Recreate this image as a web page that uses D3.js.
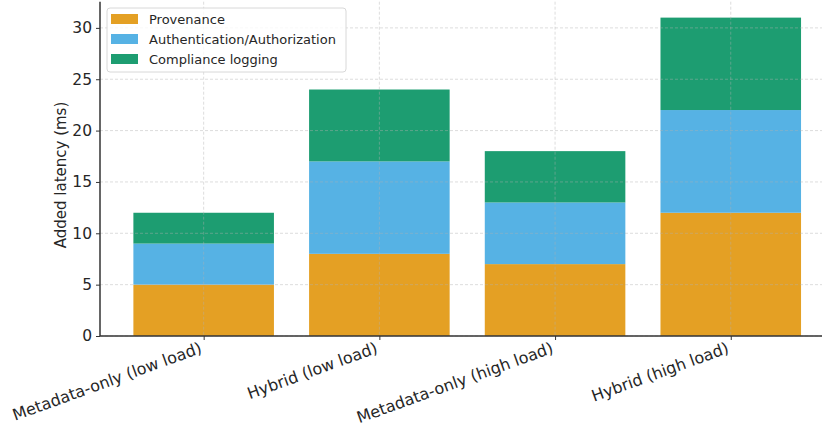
<!DOCTYPE html>
<html><head><meta charset="utf-8">
<script src="https://cdn.jsdelivr.net/npm/d3@7"></script>
<style>body{margin:0;background:#fff}svg{display:block;font-family:"DejaVu Sans",sans-serif}</style>
</head><body><svg id="c" width="822" height="427"></svg>
<script>
const categories = ["Metadata-only (low load)", "Hybrid (low load)", "Metadata-only (high load)", "Hybrid (high load)"];
const seriesNames = ["Provenance", "Authentication/Authorization", "Compliance logging"];
const provenance = [5, 8, 7, 12];
const authentication = [4, 9, 6, 10];
const compliance = [3, 7, 5, 9];
const yTicks = [0, 5, 10, 15, 20, 25, 30];
const colors = ["#E4A024", "#56B2E4", "#1D9D71"];

const svg = d3.select("#c");
const L = 100, B = 336, T = 1.7;
const values = [provenance, authentication, compliance];
const totals = categories.map((c, i) => values.reduce((s, v) => s + v[i], 0));
const ymax = d3.max(totals) * 1.05;
const y = d3.scaleLinear().domain([0, ymax]).range([B, T]);
const x = d3.scaleLinear().domain([-0.59, 3.59]).range([L, L + 4.18 * 175.7]);
const bw = x(0.8) - x(0);

// bars
const rows = categories.map((c, i) => { const o = {cat: c, i}; seriesNames.forEach((s, k) => o[s] = values[k][i]); return o; });
const stack = d3.stack().keys(seriesNames)(rows);
stack.forEach((layer, k) => {
  svg.append("g").selectAll("rect").data(layer).enter().append("rect")
    .attr("x", (d, i) => x(i) - bw / 2)
    .attr("width", bw)
    .attr("y", d => y(d[1]))
    .attr("height", d => y(d[0]) - y(d[1]))
    .attr("fill", colors[k]);
});

// grid (on top)
const grid = svg.append("g").attr("stroke", "#b0b0b0").attr("stroke-opacity", 0.55).attr("stroke-dasharray", "3,2").attr("stroke-width", 0.8);
yTicks.forEach(t => grid.append("line").attr("x1", L).attr("x2", 822).attr("y1", y(t)).attr("y2", y(t)));
categories.forEach((c, i) => grid.append("line").attr("x1", x(i)).attr("x2", x(i)).attr("y1", T).attr("y2", B));

// axes
const yAxis = d3.axisLeft(y).tickValues(yTicks).tickSize(4).tickPadding(4);
const gy = svg.append("g").attr("transform", `translate(${L},0)`).call(yAxis);
gy.select(".domain").attr("stroke", "#333").attr("stroke-width", 1.5).attr("d", `M0,${B}V${T}`);
gy.selectAll(".tick line").attr("stroke", "#333");
gy.selectAll("text").attr("font-size", 15.5).attr("fill", "#262626").attr("font-family", "DejaVu Sans");

const xb = d3.scaleOrdinal().domain(categories).range(categories.map((c, i) => x(i)));
const gx = svg.append("g").attr("transform", `translate(0,${B})`)
  .call(d3.axisBottom(xb).tickSize(4).tickPadding(6));
gx.select(".domain").attr("stroke", "#333").attr("stroke-width", 1.5).attr("d", `M${L},0H822`);
gx.selectAll(".tick line").attr("stroke", "#333");
gx.selectAll("text").attr("font-size", 16).attr("fill", "#262626").attr("font-family", "DejaVu Sans")
  .attr("text-anchor", "end").attr("dy", "0.6em").attr("transform", "translate(-8,-2) rotate(-20)");

svg.append("text").attr("transform", `translate(66,175) rotate(-90)`)
  .attr("text-anchor", "middle").attr("font-size", 15).attr("fill", "#262626").text("Added latency (ms)");

// legend
const lg = svg.append("g").attr("transform", "translate(107,8)");
lg.append("rect").attr("width", 239).attr("height", 64).attr("rx", 3).attr("fill", "#fff").attr("fill-opacity", 0.8).attr("stroke", "#d8d8d8");
seriesNames.forEach((s, k) => {
  lg.append("rect").attr("x", 4).attr("y", 6 + k * 20).attr("width", 27).attr("height", 10).attr("fill", colors[k]);
  lg.append("text").attr("x", 42).attr("y", 11 + k * 20).attr("dy", "0.35em").attr("font-size", 13).attr("fill", "#262626").text(s);
});
</script></body></html>
